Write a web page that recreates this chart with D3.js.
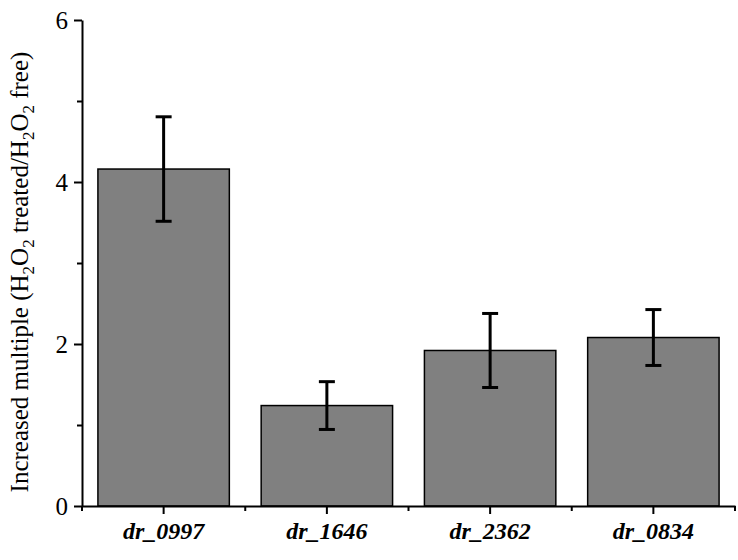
<!DOCTYPE html>
<html>
<head>
<meta charset="utf-8">
<script src="https://cdn.jsdelivr.net/npm/d3@7"></script>
<style>
  body { margin: 0; background: #fff; }
  svg text { font-family: "Liberation Serif", "Times New Roman", serif; }
</style>
</head>
<body>
<svg id="chart" width="738" height="560"></svg>
<script>
const categories = ['dr_0997', 'dr_1646', 'dr_2362', 'dr_0834'];
const values = [4.16, 1.24, 1.92, 2.08];
const errors = [0.645, 0.295, 0.457, 0.345];
const yTicks = [0, 2, 4, 6];
const yMinorTicks = [1, 3, 5];

const svg = d3.select('#chart');
const margin = { top: 20, right: 3, bottom: 54, left: 82 };
const width = 738 - margin.left - margin.right;
const height = 560 - margin.top - margin.bottom;
const serif = '"Liberation Serif", "Times New Roman", serif';

const g = svg.append('g').attr('transform', `translate(${margin.left},${margin.top})`);

const xScale = d3.scaleBand()
  .range([0, width])
  .domain(categories)
  .paddingInner(0.195)
  .paddingOuter(0.0975);

const yScale = d3.scaleLinear()
  .range([height, 0])
  .domain([0, 6]);

// bars
g.selectAll('.bar')
  .data(categories)
  .enter().append('rect')
  .attr('class', 'bar')
  .attr('x', d => xScale(d))
  .attr('width', xScale.bandwidth())
  .attr('y', (d, i) => yScale(values[i]))
  .attr('height', (d, i) => height - yScale(values[i]))
  .attr('fill', '#808080')
  .attr('stroke', '#000')
  .attr('stroke-width', 1.5);

// error bars
const eb = g.selectAll('.err')
  .data(categories)
  .enter().append('g')
  .attr('class', 'err')
  .attr('stroke', '#000')
  .attr('stroke-width', 3);
const cx = d => xScale(d) + xScale.bandwidth() / 2;
eb.append('line')
  .attr('x1', cx).attr('x2', cx)
  .attr('y1', (d, i) => yScale(values[i] + errors[i]))
  .attr('y2', (d, i) => yScale(values[i] - errors[i]));
eb.append('line')
  .attr('x1', d => cx(d) - 8).attr('x2', d => cx(d) + 8)
  .attr('y1', (d, i) => yScale(values[i] + errors[i]))
  .attr('y2', (d, i) => yScale(values[i] + errors[i]));
eb.append('line')
  .attr('x1', d => cx(d) - 8).attr('x2', d => cx(d) + 8)
  .attr('y1', (d, i) => yScale(values[i] - errors[i]))
  .attr('y2', (d, i) => yScale(values[i] - errors[i]));

// y axis
const yAxis = g.append('g')
  .call(d3.axisLeft(yScale).tickValues(yTicks).tickFormat(d3.format('d'))
    .tickSize(8).tickPadding(6).tickSizeOuter(0));
g.append('g')
  .call(d3.axisLeft(yScale).tickValues(yMinorTicks).tickSize(5).tickFormat('').tickSizeOuter(0))
  .call(a => a.select('.domain').remove());

// x axis
const xAxis = g.append('g')
  .attr('transform', `translate(0,${height})`)
  .call(d3.axisBottom(xScale).tickSize(8).tickPadding(8).tickSizeOuter(0));
const boundaries = d3.range(categories.length + 1).map(i => i * xScale.step());
g.append('g')
  .attr('transform', `translate(0,${height})`)
  .selectAll('line')
  .data(boundaries)
  .enter().append('line')
  .attr('x1', d => d).attr('x2', d => d)
  .attr('y1', 0).attr('y2', 5)
  .attr('stroke', '#000')
  .attr('stroke-width', 2);

g.selectAll('.domain').attr('stroke-width', 2);
g.selectAll('.tick line').attr('stroke-width', 2);
g.selectAll('.tick').attr('font-family', serif);

yAxis.attr('font-family', serif).selectAll('text')
  .attr('font-family', serif)
  .attr('font-size', 25)
  .attr('fill', '#000');
xAxis.attr('font-family', serif).selectAll('text')
  .attr('font-family', serif)
  .attr('font-size', 24)
  .attr('font-weight', 'bold')
  .attr('font-style', 'italic')
  .attr('fill', '#000');

// y axis label with subscripts
const label = svg.append('text')
  .attr('transform', `translate(28,${margin.top + height / 2 + 9}) rotate(-90)`)
  .attr('text-anchor', 'middle')
  .attr('font-family', serif)
  .attr('font-size', 25)
  .attr('fill', '#000');
const parts = [
  ['Increased multiple (H', 0], ['2', 1], ['O', 0], ['2', 1], [' treated/H', 0],
  ['2', 1], ['O', 0], ['2', 1], [' free)', 0]
];
parts.forEach(([t, sub]) => {
  label.append('tspan')
    .text(t)
    .attr('font-size', sub ? 17 : 25)
    .attr('baseline-shift', sub ? '-35%' : null);
});
</script>
</body>
</html>
